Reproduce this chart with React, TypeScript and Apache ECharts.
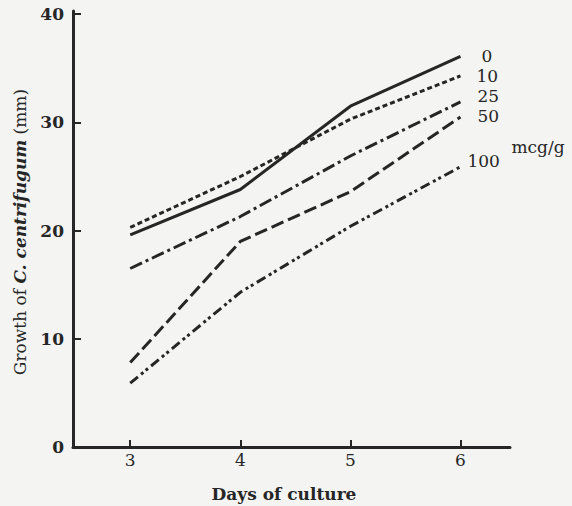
import React, { useEffect, useRef } from "react";
import * as echarts from "echarts";

const days = [3, 4, 5, 6];
const seriesNames = ["0", "10", "25", "50", "100"];
const growth0 = [19.6, 23.8, 31.5, 36.1];
const growth10 = [20.3, 25.0, 30.3, 34.3];
const growth25 = [16.5, 21.3, 26.9, 31.9];
const growth50 = [7.8, 19.0, 23.6, 30.5];
const growth100 = [5.9, 14.3, 20.4, 25.9];
const yTicks = [0, 10, 20, 30, 40];

const allValues = [growth0, growth10, growth25, growth50, growth100];
const dashes: any[] = [
  "solid",
  [5, 3],
  [13, 4, 3, 4],
  [13, 5],
  [10, 4, 3, 3, 3, 4],
];
const labelOffsets = [
  [13, 0],
  [8, 0],
  [9, -6],
  [9, -1],
  [-1, -6],
];

const FONT = "'DejaVu Serif', 'Liberation Serif', serif";
const INK = "#262626";

export default function App() {
  const ref = useRef<HTMLDivElement>(null);
  useEffect(() => {
    if (!ref.current) return;
    const chart = echarts.init(ref.current, null, { renderer: "svg" });
    const series = seriesNames.map((name, i) => ({
      name,
      type: "line",
      data: days.map((d, j) => [d, allValues[i][j]]),
      showSymbol: false,
      symbol: "none",
      lineStyle: { color: INK, width: 3, type: dashes[i] },
      endLabel: {
        show: true,
        formatter: name,
        color: INK,
        fontFamily: FONT,
        fontSize: 17,
        offset: labelOffsets[i],
      },
    }));
    chart.setOption({
      animation: false,
      backgroundColor: "#f4f4f2",
      grid: { left: 73, right: 62, top: 11, bottom: 59 },
      xAxis: {
        type: "value",
        min: 2.48,
        max: 6.45,
        splitLine: { show: false },
        axisLine: { lineStyle: { color: INK, width: 3 } },
        axisTick: {
          inside: true,
          length: 7,
          lineStyle: { color: INK, width: 2 },
          customValues: days,
        },
        axisLabel: {
          customValues: days,
          color: INK,
          fontFamily: FONT,
          fontSize: 17,
          margin: 4,
        },
      },
      yAxis: {
        type: "value",
        min: 0,
        max: 40.3,
        splitLine: { show: false },
        axisLine: { show: true, lineStyle: { color: INK, width: 3 } },
        axisTick: {
          show: true,
          inside: true,
          length: 8,
          lineStyle: { color: INK, width: 2 },
          customValues: yTicks,
        },
        axisLabel: {
          customValues: yTicks,
          color: INK,
          fontFamily: FONT,
          fontSize: 17,
          fontWeight: "bold",
          margin: 9,
        },
      },
      series,
      graphic: [
        {
          type: "text",
          x: 20,
          y: 232,
          rotation: Math.PI / 2,
          style: {
            text: "{n|Growth of }{i|C. centrifugum}{n| (mm)}",
            align: "center",
            verticalAlign: "middle",
            rich: {
              n: { fontFamily: FONT, fontSize: 17, fill: INK },
              i: {
                fontFamily: FONT,
                fontSize: 17,
                fontStyle: "italic",
                fontWeight: "bold",
                fill: INK,
              },
            },
          },
        },
        {
          type: "text",
          x: 284,
          y: 494,
          style: {
            text: "Days of culture",
            align: "center",
            verticalAlign: "middle",
            fontFamily: FONT,
            fontSize: 17,
            fontWeight: "bold",
            fill: INK,
          },
        },
        {
          type: "text",
          x: 538,
          y: 147,
          style: {
            text: "mcg/g",
            align: "center",
            verticalAlign: "middle",
            fontFamily: FONT,
            fontSize: 17,
            fill: INK,
          },
        },
      ],
    });
    return () => chart.dispose();
  }, []);
  return (
    <div
      ref={ref}
      style={{ position: "fixed", left: 0, top: 0, width: 572, height: 506 }}
    />
  );
}
